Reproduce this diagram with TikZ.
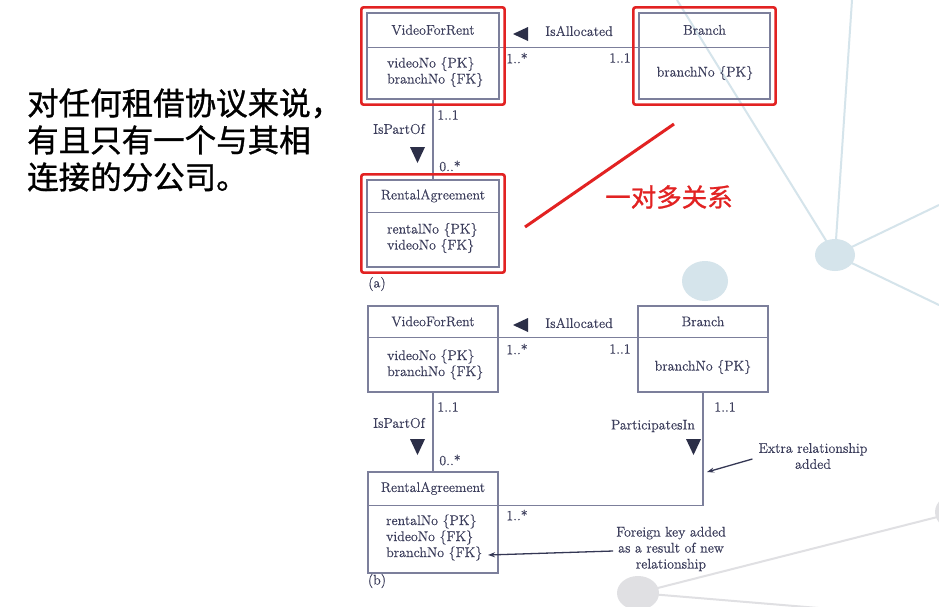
\documentclass[tikz,border=0pt]{standalone}
\usepackage{fontspec}
\newfontfamily\cjk[FakeBold=1.0]{Noto Sans CJK SC}
\newfontfamily\diagfam[FakeBold=0.35]{Latin Modern Roman}
\usetikzlibrary{arrows.meta,fit,calc}

\definecolor{boxline}{RGB}{124,127,155}
\definecolor{inkc}{RGB}{60,62,92}
\definecolor{trianglec}{RGB}{44,47,72}
\definecolor{arrowc}{RGB}{52,55,84}
\definecolor{hired}{RGB}{226,34,34}
\definecolor{bgblue}{RGB}{213,228,235}
\definecolor{bggray}{RGB}{224,224,227}

\newcommand\diagfont{\diagfam\fontsize{14}{16}\selectfont}

\tikzset{
  umlbox/.style={draw=boxline, line width=1.2pt, inner sep=0pt},
  divider/.style={draw=boxline, line width=1.2pt},
  rel/.style={draw=boxline, line width=1.2pt},
  lbl/.style={text=inkc, font=\diagfont, inner sep=0pt},
  attrs/.style={lbl, align=left, anchor=west},
  note/.style={lbl, align=center},
  dirtri/.style={fill=trianglec},
  hilite/.style={draw=hired, line width=2.6pt, rounded corners=2pt, inner sep=5pt},
  notearrow/.style={draw=arrowc, line width=1.3pt, -{Stealth[length=7pt,width=5pt]}},
  bgline/.style={line width=2pt},
}

\begin{document}
\begin{tikzpicture}[x=1pt,y=-1pt]
\useasboundingbox (0,0) rectangle (939,606);
\fill[white] (0,0) rectangle (939,606);

% decorative network in the background
\coordinate (hubB) at (835,255);
\draw[bgline, draw=bgblue] (hubB) -- (677,0);
\draw[bgline, draw=bgblue] (hubB) -- (852,0);
\draw[bgline, draw=bgblue] (hubB) -- (939,205);
\draw[bgline, draw=bgblue] (hubB) -- (939,305);
\fill[bgblue] (hubB) ellipse [x radius=20, y radius=16];
\fill[bgblue] (705,281) ellipse [x radius=23, y radius=20];
\coordinate (hubG) at (638,593);
\coordinate (hubG2) at (957,512);
\draw[bgline, draw=bggray] (hubG) -- (hubG2);
\draw[bgline, draw=bggray] (hubG) -- (939,618);
\fill[bggray] (hubG) ellipse [x radius=21, y radius=17];
\fill[bggray] (hubG2) ellipse [x radius=22, y radius=18];

% explanatory text
\node[anchor=west, inner sep=0pt, align=left, font=\cjk\fontsize{31.5}{37}\selectfont] (rule) at (27,140)
  {对任何租借协议来说，\\有且只有一个与其相\\连接的分公司。};

% ---------- (a) ----------
\node[umlbox, minimum width=132pt, minimum height=86pt] (vfrA) at (433,56) {};
\draw[divider] ([yshift=-35pt]vfrA.north west) -- ([yshift=-35pt]vfrA.north east);
\node[lbl] (vfrAt) at ([yshift=-17.5pt]vfrA.north) {VideoForRent};
\node[attrs] (vfrAa) at (387,72) {videoNo \{PK\}\\branchNo \{FK\}};

\node[umlbox, minimum width=131pt, minimum height=86pt] (brA) at (704.5,56) {};
\draw[divider] ([yshift=-35pt]brA.north west) -- ([yshift=-35pt]brA.north east);
\node[lbl] (brAt) at ([yshift=-17.5pt]brA.north) {Branch};
\node[lbl] (brAa) at (705,73) {branchNo \{PK\}};

\node[umlbox, minimum width=132pt, minimum height=87pt] (raA) at (433,223.5) {};
\draw[divider] ([yshift=-33pt]raA.north west) -- ([yshift=-33pt]raA.north east);
\node[lbl] (raAt) at ([yshift=-16.5pt]raA.north) {RentalAgreement};
\node[attrs] (raAa) at (387,238) {rentalNo \{PK\}\\videoNo \{FK\}};

\draw[rel] ([yshift=-35pt]vfrA.north east) -- ([yshift=-35pt]brA.north west);
\draw[rel] (vfrA.south) -- (raA.north);

\fill[dirtri] (513,34) -- (528,27) -- (528,41) -- cycle;
\fill[dirtri] (410,147) -- (425,147) -- (417.5,163) -- cycle;

\node[lbl] (allocA) at (579,31) {IsAllocated};
\node[lbl] (mA1) at (517,58) {1..*};
\node[lbl] (mA2) at (620,58) {1..1};
\node[lbl] (mA3) at (448,115) {1..1};
\node[lbl] (partA) at (399,129) {IsPartOf};
\node[lbl] (mA4) at (450,166) {0..*};
\node[lbl] (capA) at (377,284) {(a)};

% highlights
\node[hilite, fit=(vfrA)] (hlVfr) {};
\node[hilite, fit=(brA)] (hlBr) {};
\node[hilite, fit=(raA)] (hlRa) {};
\coordinate (slashLo) at (525,227);
\coordinate (slashHi) at (674,124);
\draw[draw=hired, line width=3pt] (slashLo) -- (slashHi);
\node[font=\cjk\fontsize{25.5}{30}\selectfont, text=hired, inner sep=0pt] (onemany) at (669,197) {一对多关系};

% ---------- (b) ----------
\node[umlbox, minimum width=130pt, minimum height=86pt] (vfrB) at (433,349) {};
\draw[divider] ([yshift=-32pt]vfrB.north west) -- ([yshift=-32pt]vfrB.north east);
\node[lbl] (vfrBt) at ([yshift=-16pt]vfrB.north) {VideoForRent};
\node[attrs] (vfrBa) at (387,364.5) {videoNo \{PK\}\\branchNo \{FK\}};

\node[umlbox, minimum width=130pt, minimum height=86pt] (brB) at (703,349) {};
\draw[divider] ([yshift=-32pt]brB.north west) -- ([yshift=-32pt]brB.north east);
\node[lbl] (brBt) at ([yshift=-16pt]brB.north) {Branch};
\node[lbl] (brBa) at (703,367) {branchNo \{PK\}};

\node[umlbox, minimum width=130pt, minimum height=101pt] (raB) at (433,522.5) {};
\draw[divider] ([yshift=-34pt]raB.north west) -- ([yshift=-34pt]raB.north east);
\node[lbl] (raBt) at ([yshift=-17pt]raB.north) {RentalAgreement};
\node[attrs] (raBa) at (386,537.5) {rentalNo \{PK\}\\videoNo \{FK\}\\branchNo \{FK\}};

\draw[rel] ([yshift=-32pt]vfrB.north east) -- ([yshift=-32pt]brB.north west);
\draw[rel] (vfrB.south) -- (raB.north);
\draw[rel] (brB.south) |- ([yshift=-34pt]raB.north east);

\fill[dirtri] (513,325) -- (528,318) -- (528,332) -- cycle;
\fill[dirtri] (410,439) -- (425,439) -- (417.5,455) -- cycle;
\fill[dirtri] (686,439) -- (701,439) -- (693.5,455) -- cycle;

\node[lbl] (allocB) at (579,323) {IsAllocated};
\node[lbl] (mB1) at (517,349) {1..*};
\node[lbl] (mB2) at (620,349) {1..1};
\node[lbl] (mB3) at (448,407) {1..1};
\node[lbl] (partB) at (399,423) {IsPartOf};
\node[lbl] (mB4) at (450,460) {0..*};
\node[lbl] (mB5) at (725,407) {1..1};
\node[lbl] (partInB) at (653,426) {ParticipatesIn};
\node[lbl] (mB6) at (517,515) {1..*};
\node[lbl] (capB) at (377,581) {(b)};

% annotations
\node[note] (extra) at (813,456) {Extra relationship\\added};
\coordinate (extraTip) at (707,472);
\draw[notearrow] ([shift={(-6,3)}]extra.west) -- (extraTip);

\node[note] (fk) at (671,549) {Foreign key added\\as a result of new\\relationship};
\coordinate (fkTip) at (488,555);
\draw[notearrow] ([shift={(-3,2)}]fk.west) -- (fkTip);
\end{tikzpicture}
\end{document}
